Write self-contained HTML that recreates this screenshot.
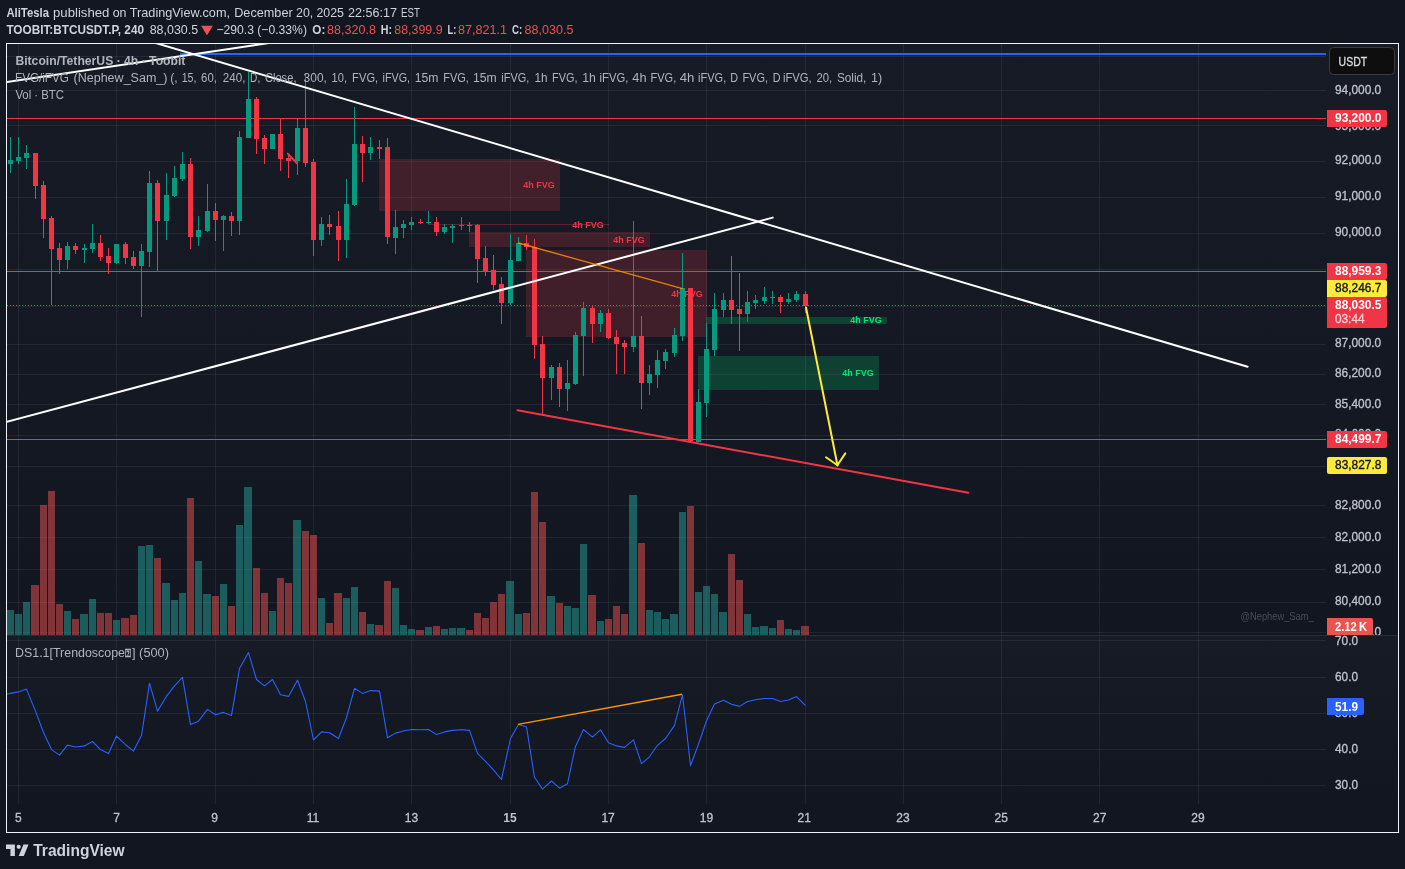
<!DOCTYPE html>
<html><head><meta charset="utf-8"><title>BTCUSDT.P chart</title>
<style>
html,body{margin:0;padding:0;background:#131722;}
body{width:1405px;height:869px;overflow:hidden;position:relative;font-family:"Liberation Sans", Arial, sans-serif;}
svg{position:absolute;left:0;top:0;display:block;will-change:transform;opacity:0.999}
text{font-family:"Liberation Sans", Arial, sans-serif;}
.ce{shape-rendering:crispEdges}
</style></head><body>
<svg width="1405" height="869" viewBox="0 0 1405 869">
<rect width="1405" height="869" fill="#131722"/>
<defs>
<clipPath id="mp"><rect x="7" y="44" width="1319" height="591"/></clipPath>
<clipPath id="op"><rect x="7" y="637" width="1319" height="167"/></clipPath>
<clipPath id="ax1"><rect x="1326" y="45" width="72" height="590"/></clipPath>
<linearGradient id="pg" x1="0" y1="0" x2="0" y2="1"><stop offset="0" stop-color="#181c27"/><stop offset="1" stop-color="#131722"/></linearGradient>
</defs>
<rect x="7" y="44" width="1391" height="591" fill="url(#pg)"/>
<rect x="7" y="636" width="1391" height="168" fill="url(#pg)"/>

<g class="ce" fill="#f0f3fa" fill-opacity="0.065">
<rect x="18" y="44" width="1" height="760"/>
<rect x="116" y="44" width="1" height="760"/>
<rect x="215" y="44" width="1" height="760"/>
<rect x="313" y="44" width="1" height="760"/>
<rect x="411" y="44" width="1" height="760"/>
<rect x="510" y="44" width="1" height="760"/>
<rect x="608" y="44" width="1" height="760"/>
<rect x="706" y="44" width="1" height="760"/>
<rect x="805" y="44" width="1" height="760"/>
<rect x="903" y="44" width="1" height="760"/>
<rect x="1001" y="44" width="1" height="760"/>
<rect x="1099" y="44" width="1" height="760"/>
<rect x="1198" y="44" width="1" height="760"/>
<rect x="7" y="56" width="1319" height="1"/>
<rect x="7" y="90" width="1319" height="1"/>
<rect x="7" y="125" width="1319" height="1"/>
<rect x="7" y="161" width="1319" height="1"/>
<rect x="7" y="197" width="1319" height="1"/>
<rect x="7" y="233" width="1319" height="1"/>
<rect x="7" y="269" width="1319" height="1"/>
<rect x="7" y="306" width="1319" height="1"/>
<rect x="7" y="344" width="1319" height="1"/>
<rect x="7" y="374" width="1319" height="1"/>
<rect x="7" y="404" width="1319" height="1"/>
<rect x="7" y="435" width="1319" height="1"/>
<rect x="7" y="466" width="1319" height="1"/>
<rect x="7" y="505" width="1319" height="1"/>
<rect x="7" y="537" width="1319" height="1"/>
<rect x="7" y="569" width="1319" height="1"/>
<rect x="7" y="602" width="1319" height="1"/>
<rect x="7" y="632" width="1319" height="1"/>
<rect x="7" y="640" width="1319" height="1"/>
<rect x="7" y="677" width="1319" height="1"/>
<rect x="7" y="713" width="1319" height="1"/>
<rect x="7" y="749" width="1319" height="1"/>
<rect x="7" y="785" width="1319" height="1"/>
</g>
<g class="ce" clip-path="url(#mp)">
<rect x="379" y="159" width="181" height="52" fill="#f23645" fill-opacity="0.2"/>
<rect x="428" y="224" width="181" height="1" fill="#f23645" fill-opacity="0.35"/>
<rect x="469" y="232" width="181" height="15" fill="#f23645" fill-opacity="0.2"/>
<rect x="526" y="250" width="181" height="87" fill="#f23645" fill-opacity="0.2"/>
<rect x="706" y="317" width="181" height="7" fill="#00e676" fill-opacity="0.2"/>
<rect x="698" y="356" width="181" height="34" fill="#00e676" fill-opacity="0.2"/>
</g>
<text x="539" y="188" fill="#f23645" font-size="9" font-weight="bold" text-anchor="middle">4h FVG</text>
<text x="588" y="227.5" fill="#f23645" font-size="9" font-weight="bold" text-anchor="middle">4h FVG</text>
<text x="629" y="242.5" fill="#f23645" font-size="9" font-weight="bold" text-anchor="middle">4h FVG</text>
<text x="687" y="296.5" fill="#f23645" font-size="9" font-weight="bold" text-anchor="middle">4h FVG</text>
<text x="866" y="323.2" fill="#00e676" font-size="9" font-weight="bold" text-anchor="middle">4h FVG</text>
<text x="858" y="375.5" fill="#00e676" font-size="9" font-weight="bold" text-anchor="middle">4h FVG</text>
<g class="ce">
<rect x="7" y="610" width="7" height="25" fill="#26a69a" fill-opacity="0.5"/>
<rect x="15" y="614" width="7" height="21" fill="#26a69a" fill-opacity="0.5"/>
<rect x="23" y="602" width="7" height="33" fill="#26a69a" fill-opacity="0.5"/>
<rect x="31" y="585" width="8" height="50" fill="#ef5350" fill-opacity="0.5"/>
<rect x="40" y="505" width="7" height="130" fill="#ef5350" fill-opacity="0.5"/>
<rect x="48" y="491" width="7" height="144" fill="#ef5350" fill-opacity="0.5"/>
<rect x="56" y="604" width="7" height="31" fill="#ef5350" fill-opacity="0.5"/>
<rect x="64" y="611" width="7" height="24" fill="#26a69a" fill-opacity="0.5"/>
<rect x="72" y="619" width="7" height="16" fill="#ef5350" fill-opacity="0.5"/>
<rect x="80" y="614" width="8" height="21" fill="#26a69a" fill-opacity="0.5"/>
<rect x="89" y="599" width="7" height="36" fill="#26a69a" fill-opacity="0.5"/>
<rect x="97" y="613" width="7" height="22" fill="#ef5350" fill-opacity="0.5"/>
<rect x="105" y="613" width="7" height="22" fill="#ef5350" fill-opacity="0.5"/>
<rect x="113" y="620" width="7" height="15" fill="#26a69a" fill-opacity="0.5"/>
<rect x="121" y="618" width="8" height="17" fill="#ef5350" fill-opacity="0.5"/>
<rect x="130" y="615" width="7" height="20" fill="#ef5350" fill-opacity="0.5"/>
<rect x="138" y="546" width="7" height="89" fill="#26a69a" fill-opacity="0.5"/>
<rect x="146" y="545" width="7" height="90" fill="#26a69a" fill-opacity="0.5"/>
<rect x="154" y="558" width="7" height="77" fill="#ef5350" fill-opacity="0.5"/>
<rect x="162" y="583" width="8" height="52" fill="#26a69a" fill-opacity="0.5"/>
<rect x="171" y="600" width="7" height="35" fill="#26a69a" fill-opacity="0.5"/>
<rect x="179" y="593" width="7" height="42" fill="#26a69a" fill-opacity="0.5"/>
<rect x="187" y="498" width="7" height="137" fill="#ef5350" fill-opacity="0.5"/>
<rect x="195" y="561" width="7" height="74" fill="#26a69a" fill-opacity="0.5"/>
<rect x="203" y="594" width="8" height="41" fill="#26a69a" fill-opacity="0.5"/>
<rect x="212" y="596" width="7" height="39" fill="#ef5350" fill-opacity="0.5"/>
<rect x="220" y="584" width="7" height="51" fill="#26a69a" fill-opacity="0.5"/>
<rect x="228" y="606" width="7" height="29" fill="#ef5350" fill-opacity="0.5"/>
<rect x="236" y="525" width="7" height="110" fill="#26a69a" fill-opacity="0.5"/>
<rect x="244" y="487" width="8" height="148" fill="#26a69a" fill-opacity="0.5"/>
<rect x="253" y="568" width="7" height="67" fill="#ef5350" fill-opacity="0.5"/>
<rect x="261" y="593" width="7" height="42" fill="#ef5350" fill-opacity="0.5"/>
<rect x="269" y="611" width="7" height="24" fill="#26a69a" fill-opacity="0.5"/>
<rect x="277" y="578" width="7" height="57" fill="#ef5350" fill-opacity="0.5"/>
<rect x="285" y="583" width="7" height="52" fill="#ef5350" fill-opacity="0.5"/>
<rect x="293" y="520" width="8" height="115" fill="#26a69a" fill-opacity="0.5"/>
<rect x="302" y="531" width="7" height="104" fill="#ef5350" fill-opacity="0.5"/>
<rect x="310" y="535" width="7" height="100" fill="#ef5350" fill-opacity="0.5"/>
<rect x="318" y="598" width="7" height="37" fill="#26a69a" fill-opacity="0.5"/>
<rect x="326" y="623" width="7" height="12" fill="#ef5350" fill-opacity="0.5"/>
<rect x="334" y="593" width="8" height="42" fill="#ef5350" fill-opacity="0.5"/>
<rect x="343" y="598" width="7" height="37" fill="#26a69a" fill-opacity="0.5"/>
<rect x="351" y="587" width="7" height="48" fill="#26a69a" fill-opacity="0.5"/>
<rect x="359" y="612" width="7" height="23" fill="#ef5350" fill-opacity="0.5"/>
<rect x="367" y="624" width="7" height="11" fill="#26a69a" fill-opacity="0.5"/>
<rect x="375" y="625" width="8" height="10" fill="#ef5350" fill-opacity="0.5"/>
<rect x="384" y="581" width="7" height="54" fill="#ef5350" fill-opacity="0.5"/>
<rect x="392" y="588" width="7" height="47" fill="#26a69a" fill-opacity="0.5"/>
<rect x="400" y="625" width="7" height="10" fill="#26a69a" fill-opacity="0.5"/>
<rect x="408" y="629" width="7" height="6" fill="#26a69a" fill-opacity="0.5"/>
<rect x="416" y="630" width="8" height="5" fill="#ef5350" fill-opacity="0.5"/>
<rect x="425" y="627" width="7" height="8" fill="#26a69a" fill-opacity="0.5"/>
<rect x="433" y="626" width="7" height="9" fill="#ef5350" fill-opacity="0.5"/>
<rect x="441" y="629" width="7" height="6" fill="#26a69a" fill-opacity="0.5"/>
<rect x="449" y="628" width="7" height="7" fill="#26a69a" fill-opacity="0.5"/>
<rect x="457" y="628" width="8" height="7" fill="#26a69a" fill-opacity="0.5"/>
<rect x="466" y="630" width="7" height="5" fill="#ef5350" fill-opacity="0.5"/>
<rect x="474" y="613" width="7" height="22" fill="#ef5350" fill-opacity="0.5"/>
<rect x="482" y="618" width="7" height="17" fill="#ef5350" fill-opacity="0.5"/>
<rect x="490" y="602" width="7" height="33" fill="#ef5350" fill-opacity="0.5"/>
<rect x="498" y="594" width="7" height="41" fill="#ef5350" fill-opacity="0.5"/>
<rect x="506" y="581" width="8" height="54" fill="#26a69a" fill-opacity="0.5"/>
<rect x="515" y="614" width="7" height="21" fill="#26a69a" fill-opacity="0.5"/>
<rect x="523" y="613" width="7" height="22" fill="#ef5350" fill-opacity="0.5"/>
<rect x="531" y="492" width="7" height="143" fill="#ef5350" fill-opacity="0.5"/>
<rect x="539" y="522" width="7" height="113" fill="#ef5350" fill-opacity="0.5"/>
<rect x="547" y="596" width="8" height="39" fill="#26a69a" fill-opacity="0.5"/>
<rect x="556" y="603" width="7" height="32" fill="#ef5350" fill-opacity="0.5"/>
<rect x="564" y="606" width="7" height="29" fill="#26a69a" fill-opacity="0.5"/>
<rect x="572" y="608" width="7" height="27" fill="#26a69a" fill-opacity="0.5"/>
<rect x="580" y="544" width="7" height="91" fill="#26a69a" fill-opacity="0.5"/>
<rect x="588" y="595" width="8" height="40" fill="#ef5350" fill-opacity="0.5"/>
<rect x="597" y="621" width="7" height="14" fill="#26a69a" fill-opacity="0.5"/>
<rect x="605" y="619" width="7" height="16" fill="#ef5350" fill-opacity="0.5"/>
<rect x="613" y="606" width="7" height="29" fill="#ef5350" fill-opacity="0.5"/>
<rect x="621" y="614" width="7" height="21" fill="#ef5350" fill-opacity="0.5"/>
<rect x="629" y="495" width="8" height="140" fill="#26a69a" fill-opacity="0.5"/>
<rect x="638" y="543" width="7" height="92" fill="#ef5350" fill-opacity="0.5"/>
<rect x="646" y="610" width="7" height="25" fill="#26a69a" fill-opacity="0.5"/>
<rect x="654" y="612" width="7" height="23" fill="#26a69a" fill-opacity="0.5"/>
<rect x="662" y="619" width="7" height="16" fill="#26a69a" fill-opacity="0.5"/>
<rect x="670" y="614" width="8" height="21" fill="#26a69a" fill-opacity="0.5"/>
<rect x="679" y="512" width="7" height="123" fill="#26a69a" fill-opacity="0.5"/>
<rect x="687" y="506" width="7" height="129" fill="#ef5350" fill-opacity="0.5"/>
<rect x="695" y="592" width="7" height="43" fill="#26a69a" fill-opacity="0.5"/>
<rect x="703" y="586" width="7" height="49" fill="#26a69a" fill-opacity="0.5"/>
<rect x="711" y="594" width="7" height="41" fill="#26a69a" fill-opacity="0.5"/>
<rect x="719" y="612" width="8" height="23" fill="#26a69a" fill-opacity="0.5"/>
<rect x="728" y="554" width="7" height="81" fill="#ef5350" fill-opacity="0.5"/>
<rect x="736" y="580" width="7" height="55" fill="#ef5350" fill-opacity="0.5"/>
<rect x="744" y="614" width="7" height="21" fill="#26a69a" fill-opacity="0.5"/>
<rect x="752" y="627" width="7" height="8" fill="#26a69a" fill-opacity="0.5"/>
<rect x="760" y="626" width="8" height="9" fill="#26a69a" fill-opacity="0.5"/>
<rect x="769" y="628" width="7" height="7" fill="#26a69a" fill-opacity="0.5"/>
<rect x="777" y="620" width="7" height="15" fill="#ef5350" fill-opacity="0.5"/>
<rect x="785" y="629" width="7" height="6" fill="#26a69a" fill-opacity="0.5"/>
<rect x="793" y="630" width="7" height="5" fill="#26a69a" fill-opacity="0.5"/>
<rect x="801" y="626" width="8" height="9" fill="#ef5350" fill-opacity="0.5"/>
</g>
<g class="ce" clip-path="url(#mp)">
<rect x="7" y="118" width="1319" height="1" fill="#f23645"/>
<rect x="7" y="271" width="1319" height="1" fill="#f23645"/>
<rect x="7" y="439" width="1319" height="1" fill="#f23645"/>
<line x1="7" y1="305.5" x2="1326" y2="305.5" stroke="#f23645" stroke-width="1" stroke-dasharray="1 2"/>
</g>
<g class="ce">
<rect x="10" y="137" width="1" height="36" fill="#089981"/>
<rect x="8" y="160" width="5" height="4" fill="#089981"/>
<rect x="18" y="137" width="1" height="27" fill="#089981"/>
<rect x="16" y="157" width="5" height="4" fill="#089981"/>
<rect x="26" y="145" width="1" height="24" fill="#089981"/>
<rect x="24" y="153" width="5" height="5" fill="#089981"/>
<rect x="35" y="153" width="1" height="46" fill="#f23645"/>
<rect x="33" y="153" width="5" height="33" fill="#f23645"/>
<rect x="43" y="181" width="1" height="57" fill="#f23645"/>
<rect x="41" y="185" width="5" height="34" fill="#f23645"/>
<rect x="51" y="216" width="1" height="89" fill="#f23645"/>
<rect x="49" y="218" width="5" height="31" fill="#f23645"/>
<rect x="59" y="243" width="1" height="31" fill="#f23645"/>
<rect x="57" y="248" width="5" height="12" fill="#f23645"/>
<rect x="67" y="242" width="1" height="27" fill="#089981"/>
<rect x="65" y="246" width="5" height="14" fill="#089981"/>
<rect x="75" y="243" width="1" height="11" fill="#f23645"/>
<rect x="73" y="246" width="5" height="4" fill="#f23645"/>
<rect x="84" y="244" width="1" height="19" fill="#089981"/>
<rect x="82" y="248" width="5" height="2" fill="#089981"/>
<rect x="92" y="224" width="1" height="29" fill="#089981"/>
<rect x="90" y="243" width="5" height="6" fill="#089981"/>
<rect x="100" y="235" width="1" height="26" fill="#f23645"/>
<rect x="98" y="243" width="5" height="14" fill="#f23645"/>
<rect x="108" y="248" width="1" height="26" fill="#f23645"/>
<rect x="106" y="256" width="5" height="7" fill="#f23645"/>
<rect x="116" y="244" width="1" height="20" fill="#089981"/>
<rect x="114" y="244" width="5" height="19" fill="#089981"/>
<rect x="125" y="242" width="1" height="22" fill="#f23645"/>
<rect x="123" y="244" width="5" height="14" fill="#f23645"/>
<rect x="133" y="251" width="1" height="18" fill="#f23645"/>
<rect x="131" y="257" width="5" height="9" fill="#f23645"/>
<rect x="141" y="244" width="1" height="73" fill="#089981"/>
<rect x="139" y="251" width="5" height="15" fill="#089981"/>
<rect x="149" y="171" width="1" height="96" fill="#089981"/>
<rect x="147" y="183" width="5" height="69" fill="#089981"/>
<rect x="157" y="180" width="1" height="91" fill="#f23645"/>
<rect x="155" y="183" width="5" height="38" fill="#f23645"/>
<rect x="166" y="173" width="1" height="67" fill="#089981"/>
<rect x="164" y="195" width="5" height="26" fill="#089981"/>
<rect x="174" y="166" width="1" height="31" fill="#089981"/>
<rect x="172" y="178" width="5" height="18" fill="#089981"/>
<rect x="182" y="152" width="1" height="29" fill="#089981"/>
<rect x="180" y="164" width="5" height="15" fill="#089981"/>
<rect x="190" y="158" width="1" height="91" fill="#f23645"/>
<rect x="188" y="164" width="5" height="73" fill="#f23645"/>
<rect x="198" y="216" width="1" height="30" fill="#089981"/>
<rect x="196" y="230" width="5" height="7" fill="#089981"/>
<rect x="207" y="184" width="1" height="48" fill="#089981"/>
<rect x="205" y="211" width="5" height="20" fill="#089981"/>
<rect x="215" y="203" width="1" height="38" fill="#f23645"/>
<rect x="213" y="211" width="5" height="9" fill="#f23645"/>
<rect x="223" y="215" width="1" height="36" fill="#089981"/>
<rect x="221" y="216" width="5" height="4" fill="#089981"/>
<rect x="231" y="212" width="1" height="24" fill="#f23645"/>
<rect x="229" y="216" width="5" height="5" fill="#f23645"/>
<rect x="239" y="131" width="1" height="104" fill="#089981"/>
<rect x="237" y="137" width="5" height="84" fill="#089981"/>
<rect x="248" y="72" width="1" height="66" fill="#089981"/>
<rect x="246" y="99" width="5" height="39" fill="#089981"/>
<rect x="256" y="97" width="1" height="57" fill="#f23645"/>
<rect x="254" y="99" width="5" height="40" fill="#f23645"/>
<rect x="264" y="135" width="1" height="29" fill="#f23645"/>
<rect x="262" y="138" width="5" height="11" fill="#f23645"/>
<rect x="272" y="134" width="1" height="15" fill="#089981"/>
<rect x="270" y="134" width="5" height="15" fill="#089981"/>
<rect x="280" y="119" width="1" height="52" fill="#f23645"/>
<rect x="278" y="134" width="5" height="25" fill="#f23645"/>
<rect x="288" y="155" width="1" height="23" fill="#f23645"/>
<rect x="286" y="158" width="5" height="3" fill="#f23645"/>
<rect x="297" y="118" width="1" height="57" fill="#089981"/>
<rect x="295" y="128" width="5" height="33" fill="#089981"/>
<rect x="305" y="74" width="1" height="93" fill="#f23645"/>
<rect x="303" y="128" width="5" height="35" fill="#f23645"/>
<rect x="313" y="159" width="1" height="97" fill="#f23645"/>
<rect x="311" y="162" width="5" height="78" fill="#f23645"/>
<rect x="321" y="217" width="1" height="29" fill="#089981"/>
<rect x="319" y="224" width="5" height="16" fill="#089981"/>
<rect x="329" y="215" width="1" height="20" fill="#f23645"/>
<rect x="327" y="224" width="5" height="3" fill="#f23645"/>
<rect x="338" y="211" width="1" height="50" fill="#f23645"/>
<rect x="336" y="226" width="5" height="14" fill="#f23645"/>
<rect x="346" y="179" width="1" height="79" fill="#089981"/>
<rect x="344" y="204" width="5" height="36" fill="#089981"/>
<rect x="354" y="107" width="1" height="99" fill="#089981"/>
<rect x="352" y="144" width="5" height="61" fill="#089981"/>
<rect x="362" y="136" width="1" height="46" fill="#f23645"/>
<rect x="360" y="144" width="5" height="9" fill="#f23645"/>
<rect x="370" y="137" width="1" height="23" fill="#089981"/>
<rect x="368" y="147" width="5" height="6" fill="#089981"/>
<rect x="379" y="140" width="1" height="19" fill="#f23645"/>
<rect x="377" y="147" width="5" height="2" fill="#f23645"/>
<rect x="387" y="138" width="1" height="106" fill="#f23645"/>
<rect x="385" y="147" width="5" height="90" fill="#f23645"/>
<rect x="395" y="210" width="1" height="44" fill="#089981"/>
<rect x="393" y="227" width="5" height="11" fill="#089981"/>
<rect x="403" y="220" width="1" height="18" fill="#089981"/>
<rect x="401" y="224" width="5" height="4" fill="#089981"/>
<rect x="411" y="217" width="1" height="13" fill="#089981"/>
<rect x="409" y="222" width="5" height="3" fill="#089981"/>
<rect x="420" y="219" width="1" height="5" fill="#f23645"/>
<rect x="418" y="222" width="5" height="1" fill="#f23645"/>
<rect x="428" y="211" width="1" height="13" fill="#089981"/>
<rect x="426" y="222" width="5" height="1" fill="#089981"/>
<rect x="436" y="217" width="1" height="19" fill="#f23645"/>
<rect x="434" y="222" width="5" height="10" fill="#f23645"/>
<rect x="444" y="224" width="1" height="10" fill="#089981"/>
<rect x="442" y="227" width="5" height="5" fill="#089981"/>
<rect x="452" y="224" width="1" height="19" fill="#089981"/>
<rect x="450" y="226" width="5" height="2" fill="#089981"/>
<rect x="461" y="217" width="1" height="13" fill="#089981"/>
<rect x="459" y="225" width="5" height="1" fill="#089981"/>
<rect x="469" y="222" width="1" height="10" fill="#f23645"/>
<rect x="467" y="225" width="5" height="1" fill="#f23645"/>
<rect x="477" y="224" width="1" height="59" fill="#f23645"/>
<rect x="475" y="225" width="5" height="34" fill="#f23645"/>
<rect x="485" y="246" width="1" height="30" fill="#f23645"/>
<rect x="483" y="258" width="5" height="13" fill="#f23645"/>
<rect x="493" y="255" width="1" height="35" fill="#f23645"/>
<rect x="491" y="270" width="5" height="15" fill="#f23645"/>
<rect x="501" y="277" width="1" height="47" fill="#f23645"/>
<rect x="499" y="284" width="5" height="19" fill="#f23645"/>
<rect x="510" y="234" width="1" height="71" fill="#089981"/>
<rect x="508" y="260" width="5" height="43" fill="#089981"/>
<rect x="518" y="237" width="1" height="24" fill="#089981"/>
<rect x="516" y="243" width="5" height="18" fill="#089981"/>
<rect x="526" y="235" width="1" height="15" fill="#f23645"/>
<rect x="524" y="243" width="5" height="4" fill="#f23645"/>
<rect x="534" y="239" width="1" height="120" fill="#f23645"/>
<rect x="532" y="247" width="5" height="98" fill="#f23645"/>
<rect x="542" y="336" width="1" height="78" fill="#f23645"/>
<rect x="540" y="344" width="5" height="34" fill="#f23645"/>
<rect x="551" y="365" width="1" height="35" fill="#089981"/>
<rect x="549" y="367" width="5" height="11" fill="#089981"/>
<rect x="559" y="363" width="1" height="44" fill="#f23645"/>
<rect x="557" y="367" width="5" height="22" fill="#f23645"/>
<rect x="567" y="360" width="1" height="51" fill="#089981"/>
<rect x="565" y="383" width="5" height="6" fill="#089981"/>
<rect x="575" y="332" width="1" height="53" fill="#089981"/>
<rect x="573" y="335" width="5" height="49" fill="#089981"/>
<rect x="583" y="302" width="1" height="74" fill="#089981"/>
<rect x="581" y="308" width="5" height="28" fill="#089981"/>
<rect x="592" y="305" width="1" height="38" fill="#f23645"/>
<rect x="590" y="308" width="5" height="16" fill="#f23645"/>
<rect x="600" y="310" width="1" height="22" fill="#089981"/>
<rect x="598" y="313" width="5" height="11" fill="#089981"/>
<rect x="608" y="309" width="1" height="30" fill="#f23645"/>
<rect x="606" y="313" width="5" height="25" fill="#f23645"/>
<rect x="616" y="330" width="1" height="44" fill="#f23645"/>
<rect x="614" y="337" width="5" height="7" fill="#f23645"/>
<rect x="624" y="340" width="1" height="34" fill="#f23645"/>
<rect x="622" y="343" width="5" height="4" fill="#f23645"/>
<rect x="633" y="221" width="1" height="131" fill="#089981"/>
<rect x="631" y="336" width="5" height="11" fill="#089981"/>
<rect x="641" y="316" width="1" height="93" fill="#f23645"/>
<rect x="639" y="336" width="5" height="47" fill="#f23645"/>
<rect x="649" y="365" width="1" height="30" fill="#089981"/>
<rect x="647" y="374" width="5" height="9" fill="#089981"/>
<rect x="657" y="350" width="1" height="38" fill="#089981"/>
<rect x="655" y="360" width="5" height="15" fill="#089981"/>
<rect x="665" y="349" width="1" height="20" fill="#089981"/>
<rect x="663" y="352" width="5" height="9" fill="#089981"/>
<rect x="674" y="328" width="1" height="29" fill="#089981"/>
<rect x="672" y="335" width="5" height="18" fill="#089981"/>
<rect x="682" y="253" width="1" height="88" fill="#089981"/>
<rect x="680" y="288" width="5" height="48" fill="#089981"/>
<rect x="690" y="288" width="1" height="154" fill="#f23645"/>
<rect x="688" y="288" width="5" height="153" fill="#f23645"/>
<rect x="698" y="389" width="1" height="53" fill="#089981"/>
<rect x="696" y="402" width="5" height="40" fill="#089981"/>
<rect x="706" y="323" width="1" height="94" fill="#089981"/>
<rect x="704" y="349" width="5" height="54" fill="#089981"/>
<rect x="714" y="293" width="1" height="63" fill="#089981"/>
<rect x="712" y="309" width="5" height="41" fill="#089981"/>
<rect x="723" y="293" width="1" height="24" fill="#089981"/>
<rect x="721" y="300" width="5" height="10" fill="#089981"/>
<rect x="731" y="256" width="1" height="68" fill="#f23645"/>
<rect x="729" y="300" width="5" height="10" fill="#f23645"/>
<rect x="739" y="273" width="1" height="78" fill="#f23645"/>
<rect x="737" y="309" width="5" height="5" fill="#f23645"/>
<rect x="747" y="291" width="1" height="31" fill="#089981"/>
<rect x="745" y="302" width="5" height="12" fill="#089981"/>
<rect x="755" y="295" width="1" height="14" fill="#089981"/>
<rect x="753" y="300" width="5" height="3" fill="#089981"/>
<rect x="764" y="287" width="1" height="17" fill="#089981"/>
<rect x="762" y="297" width="5" height="4" fill="#089981"/>
<rect x="772" y="291" width="1" height="13" fill="#089981"/>
<rect x="770" y="297" width="5" height="1" fill="#089981"/>
<rect x="780" y="295" width="1" height="18" fill="#f23645"/>
<rect x="778" y="297" width="5" height="5" fill="#f23645"/>
<rect x="788" y="293" width="1" height="11" fill="#089981"/>
<rect x="786" y="299" width="5" height="3" fill="#089981"/>
<rect x="796" y="291" width="1" height="11" fill="#089981"/>
<rect x="794" y="294" width="5" height="6" fill="#089981"/>
<rect x="805" y="291" width="1" height="22" fill="#f23645"/>
<rect x="803" y="294" width="5" height="12" fill="#f23645"/>
</g>
<g clip-path="url(#mp)" fill="none" stroke-linecap="round">
<line x1="181" y1="54" x2="1326" y2="54" stroke="#2962ff" stroke-width="2" class="ce"/>
<line x1="130" y1="35.4" x2="1247.6" y2="366.8" stroke="#fff" stroke-width="2"/>
<line x1="6" y1="82.2" x2="290" y2="39.9" stroke="#fff" stroke-width="2"/>
<line x1="6" y1="422" x2="772.7" y2="217.6" stroke="#fff" stroke-width="2"/>
<line x1="517.5" y1="410.3" x2="968.3" y2="492.8" stroke="#f23645" stroke-width="2"/>
<line x1="287.7" y1="153.6" x2="297" y2="163.2" stroke="#f23645" stroke-width="2"/>
<line x1="518.5" y1="243" x2="682.5" y2="288.7" stroke="#ff9800" stroke-opacity="0.85" stroke-width="1.3"/>
<g stroke="#ffeb3b" stroke-width="2" stroke-linecap="round"><line x1="806" y1="307.5" x2="837.5" y2="465.5"/><polyline points="826,457.2 837.4,465.2 845.3,453.4" stroke-linejoin="miter"/></g>
</g>
<g clip-path="url(#op)" fill="none"><polyline points="6,694.2 10.5,693.4 18.5,691.9 26.5,689.1 35.5,711.1 43.5,732.5 51.5,749.6 59.5,755.1 67.5,745.1 75.5,747.0 84.5,745.9 92.5,741.5 100.5,749.6 108.5,753.6 116.5,736.1 125.5,744.7 133.5,751.1 141.5,735.5 149.5,683.2 157.5,711.1 166.5,696.2 174.5,685.9 182.5,677.4 190.5,724.6 198.5,721.2 207.5,709.4 215.5,714.8 223.5,712.4 231.5,715.4 239.5,668.4 248.5,652.6 256.5,679.5 264.5,685.9 272.5,679.5 280.5,694.7 288.5,696.4 297.5,680.2 305.5,701.5 313.5,740.0 321.5,731.9 329.5,732.7 338.5,738.5 346.5,717.5 354.5,688.3 362.5,693.4 370.5,690.6 379.5,691.1 387.5,737.8 395.5,733.1 403.5,731.0 411.5,729.5 420.5,729.7 428.5,729.5 436.5,734.6 444.5,731.9 452.5,730.4 461.5,729.7 469.5,730.4 477.5,753.4 485.5,761.3 493.5,769.9 501.5,779.5 510.5,738.5 518.5,724.4 526.5,726.9 534.5,777.3 542.5,789.1 551.5,781.0 559.5,788.2 567.5,783.7 575.5,746.4 583.5,729.5 592.5,737.2 600.5,729.9 608.5,742.7 616.5,745.9 624.5,747.4 633.5,739.8 641.5,763.7 649.5,756.8 657.5,745.3 665.5,738.5 674.5,725.4 682.5,694.7 690.5,765.6 698.5,744.2 706.5,720.7 714.5,703.9 723.5,700.2 731.5,704.3 739.5,706.4 747.5,701.5 755.5,699.8 764.5,698.5 772.5,698.5 780.5,701.5 788.5,700.0 796.5,696.6 805.5,705.6" stroke="#2962ff" stroke-width="1.1" stroke-linejoin="round"/>
<line x1="518" y1="724.4" x2="682" y2="694.3" stroke="#ff9800" stroke-width="1.4"/></g>
<rect class="ce" x="7" y="635" width="1391" height="1" fill="#2a2e39"/>
<g clip-path="url(#ax1)">
<text x="1335" y="94.0" fill="#c1c4cd" font-size="12" font-weight="normal" text-anchor="start" textLength="46.2" lengthAdjust="spacingAndGlyphs" stroke="#c1c4cd" stroke-width="0.3">94,000.0</text>
<text x="1335" y="129.5" fill="#c1c4cd" font-size="12" font-weight="normal" text-anchor="start" textLength="46.2" lengthAdjust="spacingAndGlyphs" stroke="#c1c4cd" stroke-width="0.3">93,000.0</text>
<text x="1335" y="164.0" fill="#c1c4cd" font-size="12" font-weight="normal" text-anchor="start" textLength="46.2" lengthAdjust="spacingAndGlyphs" stroke="#c1c4cd" stroke-width="0.3">92,000.0</text>
<text x="1335" y="200.0" fill="#c1c4cd" font-size="12" font-weight="normal" text-anchor="start" textLength="46.2" lengthAdjust="spacingAndGlyphs" stroke="#c1c4cd" stroke-width="0.3">91,000.0</text>
<text x="1335" y="236.1" fill="#c1c4cd" font-size="12" font-weight="normal" text-anchor="start" textLength="46.2" lengthAdjust="spacingAndGlyphs" stroke="#c1c4cd" stroke-width="0.3">90,000.0</text>
<text x="1335" y="346.7" fill="#c1c4cd" font-size="12" font-weight="normal" text-anchor="start" textLength="46.2" lengthAdjust="spacingAndGlyphs" stroke="#c1c4cd" stroke-width="0.3">87,000.0</text>
<text x="1335" y="376.9" fill="#c1c4cd" font-size="12" font-weight="normal" text-anchor="start" textLength="46.2" lengthAdjust="spacingAndGlyphs" stroke="#c1c4cd" stroke-width="0.3">86,200.0</text>
<text x="1335" y="407.8" fill="#c1c4cd" font-size="12" font-weight="normal" text-anchor="start" textLength="46.2" lengthAdjust="spacingAndGlyphs" stroke="#c1c4cd" stroke-width="0.3">85,400.0</text>
<text x="1335" y="438.3" fill="#c1c4cd" font-size="12" font-weight="normal" text-anchor="start" textLength="46.2" lengthAdjust="spacingAndGlyphs" stroke="#c1c4cd" stroke-width="0.3">84,600.0</text>
<text x="1335" y="508.9" fill="#c1c4cd" font-size="12" font-weight="normal" text-anchor="start" textLength="46.2" lengthAdjust="spacingAndGlyphs" stroke="#c1c4cd" stroke-width="0.3">82,800.0</text>
<text x="1335" y="541" fill="#c1c4cd" font-size="12" font-weight="normal" text-anchor="start" textLength="46.2" lengthAdjust="spacingAndGlyphs" stroke="#c1c4cd" stroke-width="0.3">82,000.0</text>
<text x="1335" y="573.1" fill="#c1c4cd" font-size="12" font-weight="normal" text-anchor="start" textLength="46.2" lengthAdjust="spacingAndGlyphs" stroke="#c1c4cd" stroke-width="0.3">81,200.0</text>
<text x="1335" y="605.1" fill="#c1c4cd" font-size="12" font-weight="normal" text-anchor="start" textLength="46.2" lengthAdjust="spacingAndGlyphs" stroke="#c1c4cd" stroke-width="0.3">80,400.0</text>
<text x="1335" y="636.3" fill="#c1c4cd" font-size="12" font-weight="normal" text-anchor="start" textLength="46.2" lengthAdjust="spacingAndGlyphs" stroke="#c1c4cd" stroke-width="0.3">79,600.0</text>
</g>
<text x="1335" y="645.4" fill="#c1c4cd" font-size="12" font-weight="normal" text-anchor="start" textLength="23" lengthAdjust="spacingAndGlyphs" stroke="#c1c4cd" stroke-width="0.3">70.0</text>
<text x="1335" y="681" fill="#c1c4cd" font-size="12" font-weight="normal" text-anchor="start" textLength="23" lengthAdjust="spacingAndGlyphs" stroke="#c1c4cd" stroke-width="0.3">60.0</text>
<text x="1335" y="717.3" fill="#c1c4cd" font-size="12" font-weight="normal" text-anchor="start" textLength="23" lengthAdjust="spacingAndGlyphs" stroke="#c1c4cd" stroke-width="0.3">50.0</text>
<text x="1335" y="753.2" fill="#c1c4cd" font-size="12" font-weight="normal" text-anchor="start" textLength="23" lengthAdjust="spacingAndGlyphs" stroke="#c1c4cd" stroke-width="0.3">40.0</text>
<text x="1335" y="789.1" fill="#c1c4cd" font-size="12" font-weight="normal" text-anchor="start" textLength="23" lengthAdjust="spacingAndGlyphs" stroke="#c1c4cd" stroke-width="0.3">30.0</text>
<path d="M1327 110h58a2 2 0 0 1 2 2v13a2 2 0 0 1 -2 2h-58z" fill="#f23645"/>
<text x="1335" y="122.3" fill="#fff" font-size="12" font-weight="bold" text-anchor="start" textLength="46.4" lengthAdjust="spacingAndGlyphs">93,200.0</text>
<path d="M1327 263h58a2 2 0 0 1 2 2v13a2 2 0 0 1 -2 2h-58z" fill="#f23645"/>
<text x="1335" y="275.1" fill="#fff" font-size="12" font-weight="bold" text-anchor="start" textLength="46.4" lengthAdjust="spacingAndGlyphs">88,959.3</text>
<path d="M1327 280h58a2 2 0 0 1 2 2v13a2 2 0 0 1 -2 2h-58z" fill="#ffeb3b"/>
<text x="1335" y="291.8" fill="#131722" font-size="12" font-weight="normal" text-anchor="start" textLength="46.4" lengthAdjust="spacingAndGlyphs" stroke="#131722" stroke-width="0.35">88,246.7</text>
<path d="M1327 297h58a2 2 0 0 1 2 2v27a2 2 0 0 1 -2 2h-58z" fill="#f23645"/>
<text x="1335" y="309.3" fill="#fff" font-size="12" font-weight="bold" text-anchor="start" textLength="46.4" lengthAdjust="spacingAndGlyphs">88,030.5</text>
<text x="1335" y="323" fill="#fbd3d7" font-size="12" font-weight="normal" text-anchor="start" textLength="29.5" lengthAdjust="spacingAndGlyphs" stroke="#fbd3d7" stroke-width="0.3">03:44</text>
<path d="M1327 431h58a2 2 0 0 1 2 2v13a2 2 0 0 1 -2 2h-58z" fill="#f23645"/>
<text x="1335" y="443" fill="#fff" font-size="12" font-weight="bold" text-anchor="start" textLength="46.4" lengthAdjust="spacingAndGlyphs">84,499.7</text>
<rect x="1327" y="457" width="60" height="17" rx="2" fill="#ffeb3b"/>
<text x="1335" y="469" fill="#131722" font-size="12" font-weight="normal" text-anchor="start" textLength="46.4" lengthAdjust="spacingAndGlyphs" stroke="#131722" stroke-width="0.35">83,827.8</text>
<path d="M1327 618h44a2 2 0 0 1 2 2v13a2 2 0 0 1 -2 2h-44z" fill="#ef5350"/>
<text x="1335" y="630.8" fill="#fff" font-size="12" font-weight="bold" text-anchor="start" textLength="32.2" lengthAdjust="spacingAndGlyphs">2.12 K</text>
<path d="M1327 698h35a2 2 0 0 1 2 2v13a2 2 0 0 1 -2 2h-35z" fill="#2962ff"/>
<text x="1335" y="710.6" fill="#fff" font-size="12" font-weight="bold" text-anchor="start" textLength="23" lengthAdjust="spacingAndGlyphs">51.9</text>
<rect x="1329.5" y="47.5" width="65" height="27" rx="4" fill="#0f0f0f" stroke="#3c3c3c"/>
<text x="1338.6" y="66" fill="#dedede" font-size="12.2" font-weight="normal" text-anchor="start" textLength="28.6" lengthAdjust="spacingAndGlyphs" stroke="#dcdfe6" stroke-width="0.3">USDT</text>
<text x="1240.6" y="620.4" fill="#4a4d59" font-size="10.8" font-weight="normal" text-anchor="start" textLength="73" lengthAdjust="spacingAndGlyphs">@Nephew_Sam_</text>
<text x="18.3" y="822.1" fill="#c1c4cd" font-size="12" font-weight="normal" text-anchor="middle" stroke="#c1c4cd" stroke-width="0.3">5</text>
<text x="116.5" y="822.1" fill="#c1c4cd" font-size="12" font-weight="normal" text-anchor="middle" stroke="#c1c4cd" stroke-width="0.3">7</text>
<text x="214.7" y="822.1" fill="#c1c4cd" font-size="12" font-weight="normal" text-anchor="middle" stroke="#c1c4cd" stroke-width="0.3">9</text>
<text x="313" y="822.1" fill="#c1c4cd" font-size="12" font-weight="normal" text-anchor="middle" stroke="#c1c4cd" stroke-width="0.3">11</text>
<text x="411.5" y="822.1" fill="#c1c4cd" font-size="12" font-weight="normal" text-anchor="middle" stroke="#c1c4cd" stroke-width="0.3">13</text>
<text x="510" y="822.1" fill="#c1c4cd" font-size="12" font-weight="bold" text-anchor="middle">15</text>
<text x="608.1" y="822.1" fill="#c1c4cd" font-size="12" font-weight="normal" text-anchor="middle" stroke="#c1c4cd" stroke-width="0.3">17</text>
<text x="706.5" y="822.1" fill="#c1c4cd" font-size="12" font-weight="normal" text-anchor="middle" stroke="#c1c4cd" stroke-width="0.3">19</text>
<text x="804.2" y="822.1" fill="#c1c4cd" font-size="12" font-weight="normal" text-anchor="middle" stroke="#c1c4cd" stroke-width="0.3">21</text>
<text x="902.9" y="822.1" fill="#c1c4cd" font-size="12" font-weight="normal" text-anchor="middle" stroke="#c1c4cd" stroke-width="0.3">23</text>
<text x="1001.3" y="822.1" fill="#c1c4cd" font-size="12" font-weight="normal" text-anchor="middle" stroke="#c1c4cd" stroke-width="0.3">25</text>
<text x="1099.7" y="822.1" fill="#c1c4cd" font-size="12" font-weight="normal" text-anchor="middle" stroke="#c1c4cd" stroke-width="0.3">27</text>
<text x="1198" y="822.1" fill="#c1c4cd" font-size="12" font-weight="normal" text-anchor="middle" stroke="#c1c4cd" stroke-width="0.3">29</text>
<text x="15.4" y="64.7" fill="#b2b5be" font-size="12" font-weight="bold" text-anchor="start" textLength="170" lengthAdjust="spacingAndGlyphs">Bitcoin/TetherUS · 4h · Toobit</text>
<text x="15.0" y="81.7" fill="#b2b5be" font-size="12" font-weight="normal" text-anchor="start" textLength="53.8" lengthAdjust="spacingAndGlyphs">FVG/iFVG</text>
<text x="73.5" y="81.7" fill="#b2b5be" font-size="12" font-weight="normal" text-anchor="start" textLength="94.0" lengthAdjust="spacingAndGlyphs">(Nephew_Sam_)</text>
<text x="170.3" y="81.7" fill="#b2b5be" font-size="12" font-weight="normal" text-anchor="start" textLength="7.4" lengthAdjust="spacingAndGlyphs">(,</text>
<text x="181.7" y="81.7" fill="#b2b5be" font-size="12" font-weight="normal" text-anchor="start" textLength="14.8" lengthAdjust="spacingAndGlyphs">15,</text>
<text x="201.1" y="81.7" fill="#b2b5be" font-size="12" font-weight="normal" text-anchor="start" textLength="15.8" lengthAdjust="spacingAndGlyphs">60,</text>
<text x="222.7" y="81.7" fill="#b2b5be" font-size="12" font-weight="normal" text-anchor="start" textLength="22.7" lengthAdjust="spacingAndGlyphs">240,</text>
<text x="250.1" y="81.7" fill="#b2b5be" font-size="12" font-weight="normal" text-anchor="start" textLength="10.1" lengthAdjust="spacingAndGlyphs">D,</text>
<text x="264.9" y="81.7" fill="#b2b5be" font-size="12" font-weight="normal" text-anchor="start" textLength="31.6" lengthAdjust="spacingAndGlyphs">Close,</text>
<text x="303.6" y="81.7" fill="#b2b5be" font-size="12" font-weight="normal" text-anchor="start" textLength="23.3" lengthAdjust="spacingAndGlyphs">300,</text>
<text x="331.6" y="81.7" fill="#b2b5be" font-size="12" font-weight="normal" text-anchor="start" textLength="15.4" lengthAdjust="spacingAndGlyphs">10,</text>
<text x="352.1" y="81.7" fill="#b2b5be" font-size="12" font-weight="normal" text-anchor="start" textLength="26.1" lengthAdjust="spacingAndGlyphs">FVG,</text>
<text x="382.5" y="81.7" fill="#b2b5be" font-size="12" font-weight="normal" text-anchor="start" textLength="27.6" lengthAdjust="spacingAndGlyphs">iFVG,</text>
<text x="414.8" y="81.7" fill="#b2b5be" font-size="12" font-weight="normal" text-anchor="start" textLength="23.7" lengthAdjust="spacingAndGlyphs">15m</text>
<text x="443.3" y="81.7" fill="#b2b5be" font-size="12" font-weight="normal" text-anchor="start" textLength="25.6" lengthAdjust="spacingAndGlyphs">FVG,</text>
<text x="472.9" y="81.7" fill="#b2b5be" font-size="12" font-weight="normal" text-anchor="start" textLength="23.7" lengthAdjust="spacingAndGlyphs">15m</text>
<text x="501.3" y="81.7" fill="#b2b5be" font-size="12" font-weight="normal" text-anchor="start" textLength="27.9" lengthAdjust="spacingAndGlyphs">iFVG,</text>
<text x="534.4" y="81.7" fill="#b2b5be" font-size="12" font-weight="normal" text-anchor="start" textLength="13.1" lengthAdjust="spacingAndGlyphs">1h</text>
<text x="552.1" y="81.7" fill="#b2b5be" font-size="12" font-weight="normal" text-anchor="start" textLength="25.4" lengthAdjust="spacingAndGlyphs">FVG,</text>
<text x="582.2" y="81.7" fill="#b2b5be" font-size="12" font-weight="normal" text-anchor="start" textLength="13.6" lengthAdjust="spacingAndGlyphs">1h</text>
<text x="599.5" y="81.7" fill="#b2b5be" font-size="12" font-weight="normal" text-anchor="start" textLength="28.8" lengthAdjust="spacingAndGlyphs">iFVG,</text>
<text x="632.3" y="81.7" fill="#b2b5be" font-size="12" font-weight="normal" text-anchor="start" textLength="14.2" lengthAdjust="spacingAndGlyphs">4h</text>
<text x="650.5" y="81.7" fill="#b2b5be" font-size="12" font-weight="normal" text-anchor="start" textLength="25.7" lengthAdjust="spacingAndGlyphs">FVG,</text>
<text x="679.7" y="81.7" fill="#b2b5be" font-size="12" font-weight="normal" text-anchor="start" textLength="14.7" lengthAdjust="spacingAndGlyphs">4h</text>
<text x="698.0" y="81.7" fill="#b2b5be" font-size="12" font-weight="normal" text-anchor="start" textLength="28.3" lengthAdjust="spacingAndGlyphs">iFVG,</text>
<text x="730.3" y="81.7" fill="#b2b5be" font-size="12" font-weight="normal" text-anchor="start" textLength="7.8" lengthAdjust="spacingAndGlyphs">D</text>
<text x="742.4" y="81.7" fill="#b2b5be" font-size="12" font-weight="normal" text-anchor="start" textLength="25.6" lengthAdjust="spacingAndGlyphs">FVG,</text>
<text x="772.7" y="81.7" fill="#b2b5be" font-size="12" font-weight="normal" text-anchor="start" textLength="7.8" lengthAdjust="spacingAndGlyphs">D</text>
<text x="782.9" y="81.7" fill="#b2b5be" font-size="12" font-weight="normal" text-anchor="start" textLength="28.8" lengthAdjust="spacingAndGlyphs">iFVG,</text>
<text x="816.4" y="81.7" fill="#b2b5be" font-size="12" font-weight="normal" text-anchor="start" textLength="15.8" lengthAdjust="spacingAndGlyphs">20,</text>
<text x="836.9" y="81.7" fill="#b2b5be" font-size="12" font-weight="normal" text-anchor="start" textLength="29.5" lengthAdjust="spacingAndGlyphs">Solid,</text>
<text x="871.1" y="81.7" fill="#b2b5be" font-size="12" font-weight="normal" text-anchor="start" textLength="11.2" lengthAdjust="spacingAndGlyphs">1)</text>
<text x="15.4" y="98.8" fill="#b2b5be" font-size="12" font-weight="normal" text-anchor="start" textLength="48.6" lengthAdjust="spacingAndGlyphs">Vol · BTC</text>
<text x="15.0" y="657" fill="#b2b5be" font-size="12" font-weight="normal" text-anchor="start" textLength="110" lengthAdjust="spacingAndGlyphs">DS1.1[Trendoscope</text>
<text x="124.6" y="656.6" fill="#b2b5be" font-size="10" font-weight="bold" font-family="DejaVu Sans, sans-serif">⍰</text>
<text x="132.0" y="657" fill="#b2b5be" font-size="12" font-weight="normal" text-anchor="start" textLength="37" lengthAdjust="spacingAndGlyphs">] (500)</text>
<rect x="6.5" y="43.5" width="1392" height="789" fill="none" stroke="#f0f3fa" stroke-width="1" class="ce"/>
<text x="6.4" y="17.1" fill="#d1d4dc" font-size="12.6" font-weight="bold" textLength="42.6" lengthAdjust="spacingAndGlyphs">AliTesla</text>
<text x="53.0" y="17.1" fill="#d1d4dc" font-size="12.6" font-weight="normal" textLength="56.4" lengthAdjust="spacingAndGlyphs">published</text>
<text x="112.7" y="17.1" fill="#d1d4dc" font-size="12.6" font-weight="normal" textLength="13.8" lengthAdjust="spacingAndGlyphs">on</text>
<text x="129.8" y="17.1" fill="#d1d4dc" font-size="12.6" font-weight="normal" textLength="100.2" lengthAdjust="spacingAndGlyphs">TradingView.com,</text>
<text x="234.2" y="17.1" fill="#d1d4dc" font-size="12.6" font-weight="normal" textLength="58.5" lengthAdjust="spacingAndGlyphs">December</text>
<text x="296.0" y="17.1" fill="#d1d4dc" font-size="12.6" font-weight="normal" textLength="17.2" lengthAdjust="spacingAndGlyphs">20,</text>
<text x="316.5" y="17.1" fill="#d1d4dc" font-size="12.6" font-weight="normal" textLength="27.5" lengthAdjust="spacingAndGlyphs">2025</text>
<text x="348.1" y="17.1" fill="#d1d4dc" font-size="12.6" font-weight="normal" textLength="48.8" lengthAdjust="spacingAndGlyphs">22:56:17</text>
<text x="401.1" y="17.1" fill="#d1d4dc" font-size="12.6" font-weight="normal" textLength="18.9" lengthAdjust="spacingAndGlyphs">EST</text>
<text x="6.4" y="33.7" fill="#d1d4dc" font-size="12.6" font-weight="bold" textLength="137.6" lengthAdjust="spacingAndGlyphs">TOOBIT:BTCUSDT.P, 240</text>
<text x="149.7" y="33.7" fill="#d1d4dc" font-size="12.6" font-weight="normal" textLength="48.5" lengthAdjust="spacingAndGlyphs">88,030.5</text>
<text transform="translate(196.9 35.2) scale(1.26 1.02)" fill="#ef5350" font-size="16" font-family="DejaVu Sans, sans-serif">▼</text>
<text x="216.4" y="33.7" fill="#d1d4dc" font-size="12.6" font-weight="normal" textLength="90.6" lengthAdjust="spacingAndGlyphs">−290.3 (−0.33%)</text>
<text x="312.3" y="33.7" fill="#d1d4dc" font-size="12.6" font-weight="bold" textLength="13.0" lengthAdjust="spacingAndGlyphs">O:</text>
<text x="327.1" y="33.7" fill="#ef5350" font-size="12.6" font-weight="normal" textLength="48.8" lengthAdjust="spacingAndGlyphs">88,320.8</text>
<text x="380.7" y="33.7" fill="#d1d4dc" font-size="12.6" font-weight="bold" textLength="11.3" lengthAdjust="spacingAndGlyphs">H:</text>
<text x="394.3" y="33.7" fill="#ef5350" font-size="12.6" font-weight="normal" textLength="48.3" lengthAdjust="spacingAndGlyphs">88,399.9</text>
<text x="447.6" y="33.7" fill="#d1d4dc" font-size="12.6" font-weight="bold" textLength="8.7" lengthAdjust="spacingAndGlyphs">L:</text>
<text x="458.1" y="33.7" fill="#ef5350" font-size="12.6" font-weight="normal" textLength="49.0" lengthAdjust="spacingAndGlyphs">87,821.1</text>
<text x="512.1" y="33.7" fill="#d1d4dc" font-size="12.6" font-weight="bold" textLength="10.2" lengthAdjust="spacingAndGlyphs">C:</text>
<text x="524.6" y="33.7" fill="#ef5350" font-size="12.6" font-weight="normal" textLength="49.0" lengthAdjust="spacingAndGlyphs">88,030.5</text>
<g transform="translate(6 841.96) scale(0.635)" fill="#d1d4dc"><path d="M14 22H7V11H0V4h14v18zM28 22h-8l7.5-18h8L28 22z"/><circle cx="20" cy="7.6" r="3.3"/></g>
<text x="33.2" y="856" fill="#d1d4dc" font-size="15.6" font-weight="bold" text-anchor="start" textLength="91.4" lengthAdjust="spacingAndGlyphs">TradingView</text>
</svg></body></html>
